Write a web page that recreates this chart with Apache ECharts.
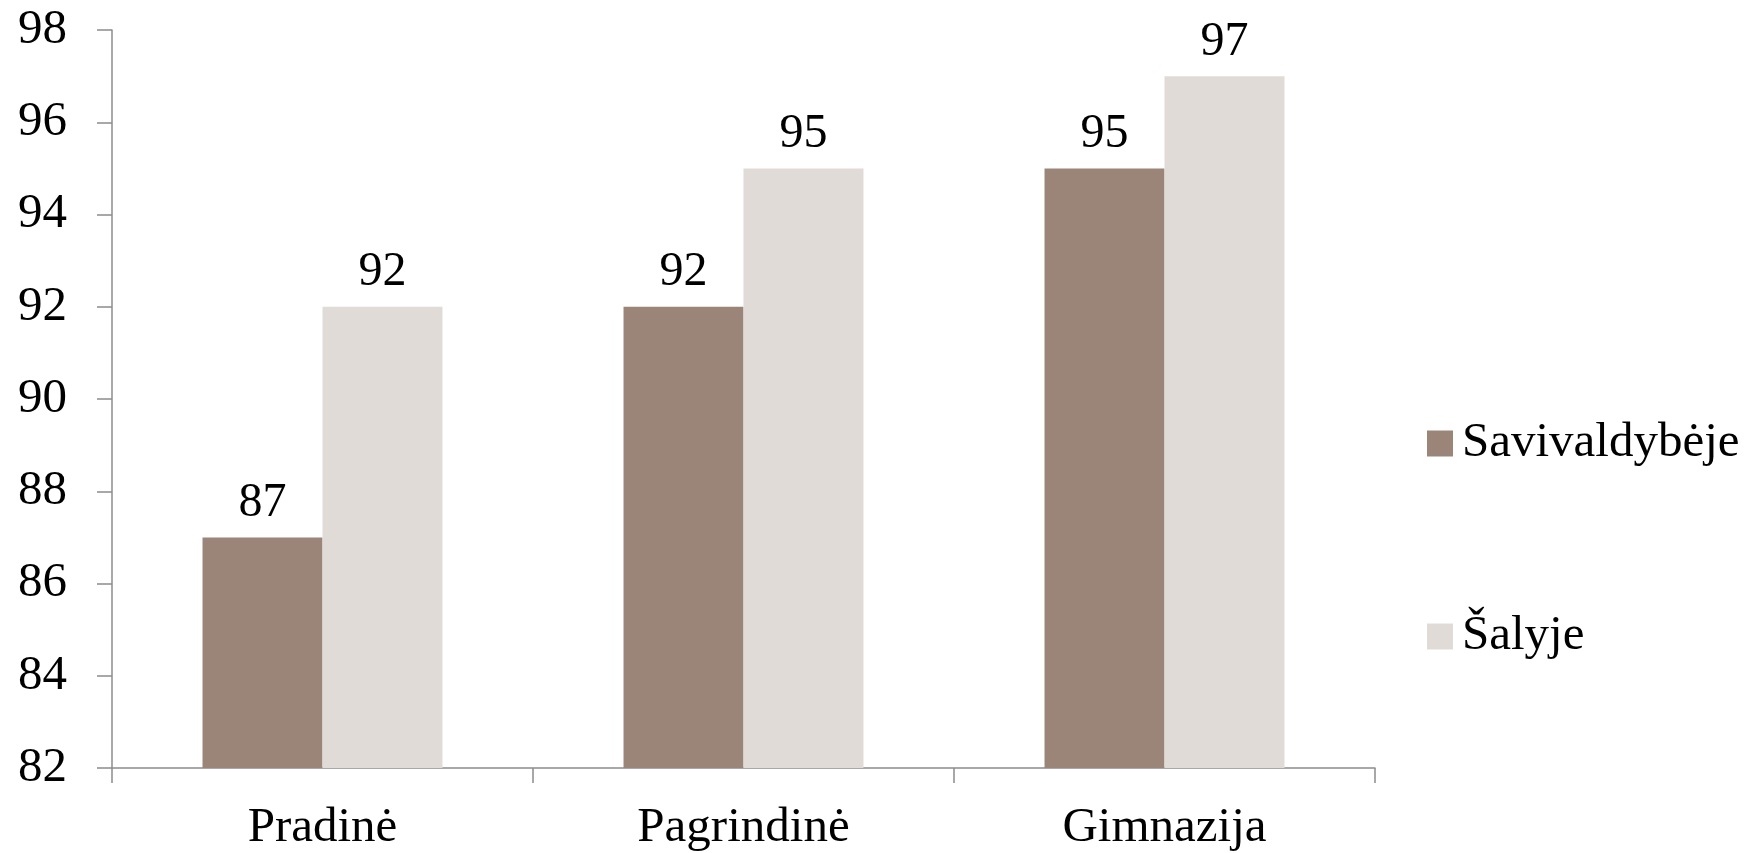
<!DOCTYPE html>
<html>
<head>
<meta charset="utf-8">
<script src="https://cdn.jsdelivr.net/npm/echarts@6/dist/echarts.min.js"></script>
<style>
html,body{margin:0;padding:0;background:#fff;}
#c{width:1758px;height:853px;}
</style>
</head>
<body>
<div id="c"></div>
<script>
const categories = ['Pradinė', 'Pagrindinė', 'Gimnazija'];
const seriesNames = ['Savivaldybėje', 'Šalyje'];
const savivaldybeje = [87, 92, 95];
const salyje = [92, 95, 97];
const yMin = 82, yMax = 98, yStep = 2;

const FONT = '"Liberation Serif", "DejaVu Serif", serif';
const axisColor = '#8c8c8c';
const colors = ['#9B8579', '#E0DBD7'];

const chart = echarts.init(document.getElementById('c'), null, {renderer: 'canvas'});
const labelStyle = {
  show: true, position: 'top', distance: 10,
  fontFamily: FONT, fontSize: 48, color: '#000'
};
chart.setOption({
  animation: false,
  backgroundColor: '#fff',
  color: colors,
  grid: {left: 112, right: 383, top: 30, bottom: 85, containLabel: false, outerBoundsMode: 'none'},
  legend: {
    orient: 'vertical', left: 1422, top: 414,
    itemWidth: 26, itemHeight: 26, itemGap: 144,
    icon: 'rect',
    textStyle: {fontFamily: FONT, fontSize: 49, color: '#000', padding: [0, 0, 0, 4]},
    data: seriesNames
  },
  xAxis: {
    type: 'category', data: categories,
    axisLine: {lineStyle: {color: axisColor, width: 1.5}},
    axisTick: {show: true, length: 15, alignWithLabel: false, lineStyle: {color: axisColor, width: 1.5}},
    axisLabel: {fontFamily: FONT, fontSize: 49, color: '#000', margin: 36}
  },
  yAxis: {
    type: 'value', min: yMin, max: yMax, interval: yStep,
    splitLine: {show: false},
    axisLine: {show: true, lineStyle: {color: axisColor, width: 1.5}},
    axisTick: {show: true, length: 15, lineStyle: {color: axisColor, width: 1.5}},
    axisLabel: {fontFamily: FONT, fontSize: 49, color: '#000', margin: 45}
  },
  series: [
    {name: seriesNames[0], type: 'bar', data: savivaldybeje, barGap: '0%', barCategoryGap: '43%', label: labelStyle},
    {name: seriesNames[1], type: 'bar', data: salyje, barGap: '0%', barCategoryGap: '43%', label: labelStyle}
  ]
});
</script>
</body>
</html>
